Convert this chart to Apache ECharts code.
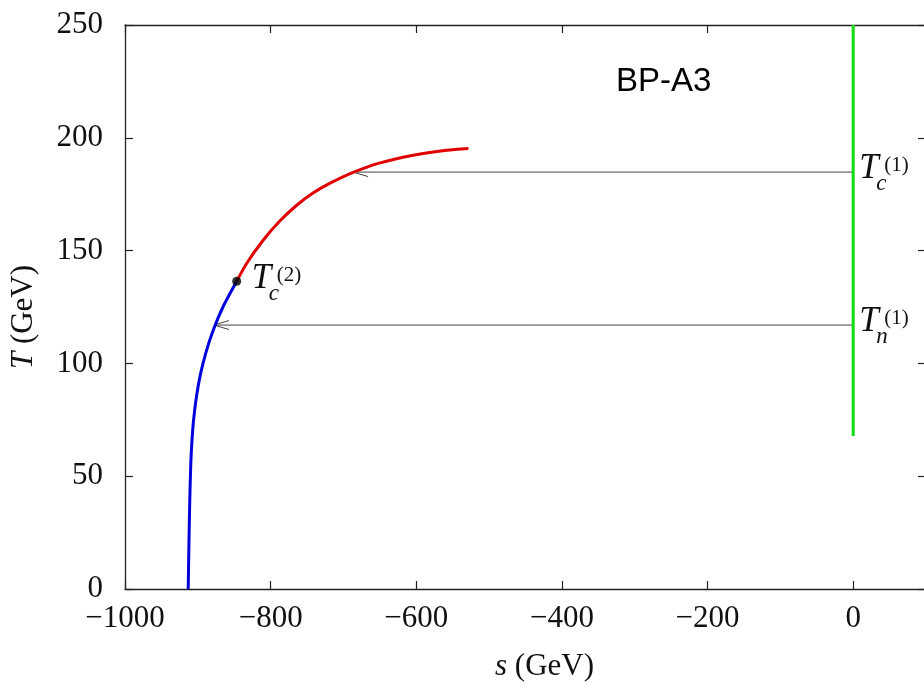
<!DOCTYPE html>
<html>
<head>
<meta charset="utf-8">
<script src="https://cdn.jsdelivr.net/npm/echarts@6/dist/echarts.min.js"></script>
<style>
  html, body { margin: 0; padding: 0; background: #fff; }
  #chart { width: 924px; height: 690px; }
</style>
</head>
<body>
<div id="chart"></div>
<script>
// Axis ranges (GeV)
const sRange = [-1000, 100];
const sStep = 200;
const tRange = [0, 250];
const tStep = 50;

// Low-temperature branch of the s-vacuum (blue), up to T_c^(2)
const blueBranch = [
  [-913.2, 0], [-912.2, 20], [-911.0, 40], [-909.7, 55], [-908.2, 65],
  [-905.8, 75], [-902.0, 85], [-896.5, 95], [-888.7, 105], [-878.5, 115],
  [-865.5, 125], [-846.6, 136.4]
];

// Branch above T_c^(2) (red)
const redBranch = [
  [-846.6, 136.4], [-832.8, 144.4], [-810.0, 154.7], [-787.1, 163.2], [-764.2, 170.1],
  [-741.3, 175.6], [-718.4, 179.9], [-686.6, 184.7], [-649.7, 188.9], [-604.0, 192.3],
  [-558.1, 194.5], [-528.4, 195.3]
];

// Phase at s = 0 (green)
const greenBranch = [[0, 67.8], [0, 250]];

// Second-order point T_c^(2)
const tc2Point = [[-846.6, 136.4]];

// Transitions: [s_from, s_to, T]
const transitions = [
  [0, -686.8, 184.8],
  [0, -877.8, 117.0]
];

// Annotations: anchor (s, T), subscript, superscript
const annotationAnchors = [[0, 184.8], [0, 117.0], [-846.6, 136.4]];
const annotationSubs = ['c', 'n', 'c'];
const annotationSups = ['(1)', '(1)', '(2)'];

const panelTitle = 'BP-A3';

const SERIF = '"Liberation Serif", "DejaVu Serif", serif';
const SANS = '"Liberation Sans", Arial, sans-serif';
const FRAME = '#222';

const fmtTick = v => (v % sStep === 0 ? (v < 0 ? '\u2212' + Math.abs(v) : String(v)) : '');

const chart = echarts.init(document.getElementById('chart'), null, { renderer: 'canvas' });

const axisLine = { show: true, onZero: false, lineStyle: { color: FRAME, width: 1.3 } };
const axisTick = { show: true, inside: true, length: 8, lineStyle: { color: FRAME, width: 1.2 } };

chart.setOption({
  animation: false,
  backgroundColor: '#fff',
  // the right edge of the frame (s = 100) falls just outside the canvas
  grid: { left: 125, top: 25, width: 801, height: 564, containLabel: false, outerBoundsMode: 'none' },
  xAxis: [
    {
      type: 'value', min: sRange[0], max: sRange[1], interval: sStep,
      position: 'bottom',
      axisLine, axisTick,
      splitLine: { show: false },
      axisLabel: {
        margin: 14, color: '#111', fontFamily: SERIF, fontSize: 31,
        formatter: fmtTick, showMaxLabel: false
      },
      name: '{it|s} (GeV)',
      nameLocation: 'middle', nameGap: 62,
      nameTextStyle: {
        color: '#111', fontFamily: SERIF, fontSize: 31, padding: [0, 0, 0, 38],
        rich: { it: { fontStyle: 'italic', fontFamily: SERIF, fontSize: 31, color: '#111' } }
      }
    },
    {
      type: 'value', min: sRange[0], max: sRange[1], interval: sStep,
      position: 'top',
      axisLine, axisTick,
      splitLine: { show: false },
      axisLabel: { show: false }
    }
  ],
  yAxis: [
    {
      type: 'value', min: tRange[0], max: tRange[1], interval: tStep,
      position: 'left',
      axisLine, axisTick,
      splitLine: { show: false },
      axisLabel: { margin: 22, color: '#111', fontFamily: SERIF, fontSize: 31 },
      name: '{it|T} (GeV)',
      nameLocation: 'middle', nameGap: 86, nameRotate: 90,
      nameTextStyle: {
        color: '#111', fontFamily: SERIF, fontSize: 31, padding: [0, 20, 0, 0],
        rich: { it: { fontStyle: 'italic', fontFamily: SERIF, fontSize: 31, color: '#111' } }
      }
    },
    {
      type: 'value', min: tRange[0], max: tRange[1], interval: tStep,
      position: 'right',
      axisLine, axisTick,
      splitLine: { show: false },
      axisLabel: { show: false }
    }
  ],
  graphic: [
    {
      type: 'text', x: 616, y: 82,
      style: { text: panelTitle, font: '33px ' + SANS, fill: '#000', verticalAlign: 'middle', align: 'left' }
    }
  ],
  series: [
    {
      type: 'line', data: blueBranch, showSymbol: false, smooth: 0.25,
      lineStyle: { color: '#0000dd', width: 3 }, z: 3
    },
    {
      type: 'line', data: redBranch, showSymbol: false, smooth: 0.25,
      lineStyle: { color: '#e00000', width: 3 }, z: 3
    },
    {
      type: 'line', data: greenBranch, showSymbol: false,
      lineStyle: { color: '#10dd10', width: 3 }, z: 3
    },
    {
      // transition arrows with open heads
      type: 'custom',
      data: transitions,
      z: 2,
      renderItem(params, api) {
        const T = api.value(2);
        const p0 = api.coord([api.value(0), T]);
        const p1 = api.coord([api.value(1), T]);
        const stroke = { stroke: '#444', lineWidth: 1, fill: null };
        return {
          type: 'group',
          children: [
            { type: 'line', shape: { x1: p0[0], y1: p0[1], x2: p1[0], y2: p1[1] }, style: stroke },
            {
              type: 'polyline',
              shape: { points: [[p1[0] + 15, p1[1] - 4.5], [p1[0], p1[1]], [p1[0] + 15, p1[1] + 4.5]] },
              style: stroke
            }
          ]
        };
      }
    },
    {
      type: 'scatter', data: tc2Point, symbol: 'circle', symbolSize: 9,
      itemStyle: { color: '#000' }, z: 5
    },
    {
      // T labels with sub- and superscripts
      type: 'custom',
      data: annotationAnchors,
      z: 6,
      renderItem(params, api) {
        const i = params.dataIndex;
        const p = api.coord([api.value(0), api.value(1)]);
        const gap = i === 2 ? 15 : 6;
        const dy = i === 2 ? -2 : -3;
        const x = p[0] + gap;
        const y = p[1] + dy;
        return {
          type: 'group',
          children: [
            { type: 'text', x: x, y: y,
              style: { text: 'T', font: 'italic 35px ' + SERIF, fill: '#111', verticalAlign: 'middle', align: 'left' } },
            { type: 'text', x: x + 17, y: y + 15,
              style: { text: annotationSubs[i], font: 'italic 23px ' + SERIF, fill: '#111', verticalAlign: 'middle', align: 'left' } },
            { type: 'text', x: x + 25, y: y - 4,
              style: { text: annotationSups[i], font: '21px ' + SERIF, fill: '#111', verticalAlign: 'middle', align: 'left' } }
          ]
        };
      }
    }
  ]
});
</script>
</body>
</html>
